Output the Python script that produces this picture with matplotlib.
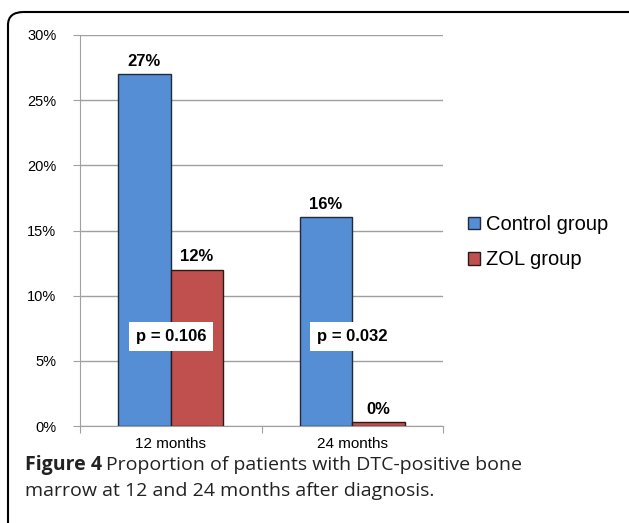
import numpy as np
import matplotlib.pyplot as plt
from matplotlib.patches import FancyBboxPatch

categories = ['12 months', '24 months']
control = [27, 16]
zol = [12, 0.3]
control_labels = ['27%', '16%']
zol_labels = ['12%', '0%']
p_values = ['p = 0.106', 'p = 0.032']
series_names = ['Control group', 'ZOL group']

fig = plt.figure(figsize=(6.29, 5.23), dpi=100)
ax = fig.add_axes([80 / 629, 1 - 426 / 523, (443 - 80) / 629, (426 - 35) / 523])

x = np.arange(len(categories))
w = 0.29
b1 = ax.bar(x - w / 2, control, w, color='#558ED5', edgecolor='#1f2a3a', linewidth=1, label=series_names[0], zorder=3)
b2 = ax.bar(x + w / 2, zol, w, color='#C0504D', edgecolor='#2a1a1a', linewidth=1, label=series_names[1], zorder=3)

font = 'Liberation Sans'
for bars, labels in [(b1, control_labels), (b2, zol_labels)]:
    for rect, lab in zip(bars, labels):
        ax.text(rect.get_x() + rect.get_width() / 2, rect.get_height() + 0.4, lab, ha='center', va='bottom',
                fontsize=12, fontweight='bold', family=font)

for xi, p in zip(x, p_values):
    ax.text(xi, 6.9, p, ha='center', va='center', fontsize=12, fontweight='bold', family=font, zorder=4,
            bbox=dict(facecolor='white', edgecolor='none', pad=5))

ax.set_xlim(-0.5, 1.5)
ax.set_ylim(0, 30)
ax.set_yticks(np.arange(0, 31, 5))
ax.set_yticklabels([f'{v}%' for v in range(0, 31, 5)], family=font, fontsize=10.5)
ax.yaxis.grid(True, color='#a0a0a0', linewidth=1, zorder=0)
ax.set_axisbelow(True)

ax.set_xticks([-0.5, 0.5, 1.5])
ax.set_xticklabels([])
ax.set_xticks(x, minor=True)
ax.set_xticklabels(categories, minor=True, family=font, fontsize=11)
ax.tick_params(axis='x', which='minor', length=0, pad=8)
ax.tick_params(axis='x', which='major', length=5, color='#a0a0a0', direction='out')
ax.tick_params(axis='y', length=5, color='#a0a0a0', pad=12)

for s in ['top', 'right']:
    ax.spines[s].set_visible(False)
for s in ['left', 'bottom']:
    ax.spines[s].set_color('#a0a0a0')

ax.legend(loc='center left', bbox_to_anchor=(1.02, 0.47), frameon=False, prop={'family': font, 'size': 14.5},
          handlelength=0.6, handleheight=0.6, handletextpad=0.25, labelspacing=0.8)

# caption
cap = '#222222'
fig.text(25 / 629, 1 - 465 / 523, 'Figure 4', fontsize=14, fontweight='bold', family='Open Sans',
         ha='left', va='center', color=cap)
fig.text(106 / 629, 1 - 465 / 523, 'Proportion of patients with DTC-positive bone', fontsize=14,
         family='Open Sans', ha='left', va='center', color=cap)
fig.text(25 / 629, 1 - 491 / 523, 'marrow at 12 and 24 months after diagnosis.', fontsize=14,
         family='Open Sans', ha='left', va='center', color=cap)

border = FancyBboxPatch((8 / 629, -0.1), 1.1, 1 - 12 / 523 + 0.1, boxstyle='round,pad=0,rounding_size=0.025',
                        transform=fig.transFigure, facecolor='none', edgecolor='black', linewidth=1.5)
fig.patches.append(border)

fig.savefig('out.png', dpi=100)
